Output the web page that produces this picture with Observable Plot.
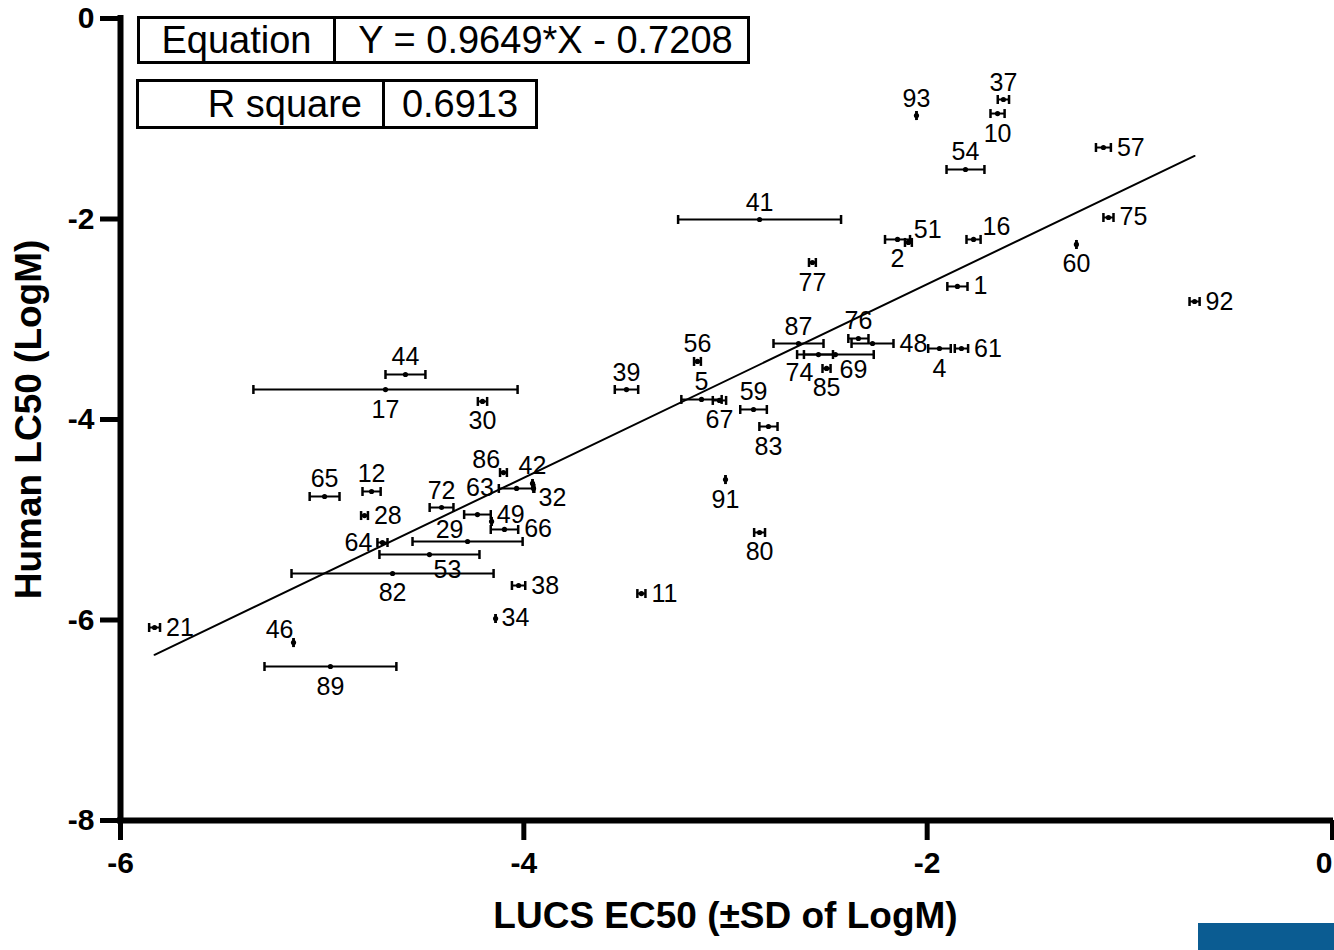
<!DOCTYPE html>
<html>
<head>
<meta charset="utf-8">
<script src="https://cdn.jsdelivr.net/npm/d3@7"></script>
<script src="https://cdn.jsdelivr.net/npm/@observablehq/plot@0.6"></script>
<style>
  html, body { margin: 0; padding: 0; background: #fff; }
  #wrap { position: relative; width: 1334px; height: 950px; overflow: hidden; font-family: "Liberation Sans", Arial, sans-serif; }
  #chart { position: absolute; left: 0; top: 0; }
  .box { position: absolute; display: flex; border: 3px solid #000; box-sizing: border-box; background: #fff; font-size: 38px; color: #000; line-height: 1; }
  .box div { display: flex; align-items: center; justify-content: center; height: 100%; box-sizing: border-box; }
  .box div + div { border-left: 3px solid #000; }
  #logo { position: absolute; left: 1198px; top: 923px; width: 136px; height: 27px; background: #0b5c92; }
</style>
</head>
<body>
<div id="wrap">
  <div id="chart"></div>
  <div class="box" style="left:137px; top:16px; width:613px; height:48px;">
    <div style="width:193px;">Equation</div>
    <div style="flex:1; padding-left:8px;">Y = 0.9649*X - 0.7208</div>
  </div>
  <div class="box" style="left:136px; top:79px; width:402px; height:50px;">
    <div style="width:243px; justify-content:flex-end; padding-right:20px;">R square</div>
    <div style="flex:1;">0.6913</div>
  </div>
  <div id="logo"></div>
</div>
<script>
// ---- data ----
const ids = ["1","2","4","5","10","11","12","16","17","21","28","29","30","32","34","37","38","39","41","42","44","46","48","49","","51","53","54","56","57","59","60","61","63","64","65","66","67","69","72","74","75","76","77","80","82","83","85","86","87","89","91","92","93"];
const lucs = [-1.850,-2.147,-1.939,-3.119,-1.651,-3.417,-4.755,-1.770,-4.686,-5.831,-4.790,-4.279,-4.205,-3.952,-4.140,-1.622,-4.026,-3.491,-2.831,-3.957,-4.587,-5.142,-2.271,-4.230,-4.160,-2.093,-4.468,-1.810,-3.139,-1.126,-2.861,-1.260,-1.830,-4.036,-4.701,-4.988,-4.096,-3.030,-2.455,-4.408,-2.539,-1.101,-2.341,-2.569,-2.831,-4.651,-2.787,-2.499,-4.101,-2.638,-4.959,-3.000,-0.674,-2.053];
const lucsSD = [0.050,0.062,0.056,0.100,0.035,0.020,0.045,0.035,0.655,0.027,0.017,0.273,0.023,0.000,0.000,0.028,0.033,0.058,0.404,0.000,0.099,0.000,0.104,0.066,0.000,0.017,0.248,0.094,0.017,0.037,0.066,0.000,0.033,0.088,0.025,0.074,0.068,0.033,0.190,0.059,0.072,0.025,0.050,0.017,0.027,0.501,0.045,0.020,0.017,0.124,0.327,0.000,0.025,0.000];
const human = [-2.673,-2.204,-3.292,-3.800,-0.948,-5.736,-4.718,-2.204,-3.701,-6.075,-4.958,-5.217,-3.820,-4.688,-5.985,-0.808,-5.656,-3.701,-2.005,-4.638,-3.551,-6.225,-3.242,-4.948,-5.017,-2.234,-5.347,-1.506,-3.421,-1.287,-3.900,-2.254,-3.292,-4.688,-5.227,-4.768,-5.097,-3.810,-3.352,-4.878,-3.352,-1.985,-3.192,-2.434,-5.127,-5.536,-4.070,-3.491,-4.529,-3.242,-6.464,-4.599,-2.823,-0.968];
const place = ["r","b","b","t","b","r","t","tr","b","r","r","tL","b","br","r","t","r","t","t","t","t","tl","r","r","t","tr","bR","t","t","r","t","b","r","l","l","t","r","b","bR","t","bL","r","t","b","b","b","b","b","tl","t","b","b","r","t"];
const slope = 0.9649, intercept = -0.7208;
const xTicks = [-6, -4, -2];
const xLastTick = [0];
const yTicks = [0, -2, -4, -6, -8];
const xTitle = "LUCS EC50 (±SD of LogM)";
const yTitle = "Human LC50 (LogM)";

const rows = ids.map((id, i) => ({id, x: lucs[i], sd: lucsSD[i], y: human[i], place: place[i]}));
const xMin = d3.min(lucs), xMax = d3.max(lucs);
const fit = [xMin, xMax].map(x => ({x, y: slope * x + intercept}));

// ---- styles ----
const capSymbol = { draw(ctx) { ctx.moveTo(0, -4.5); ctx.lineTo(0, 4.5); } };
const placeStyle = {
  t:  {base: "c", dx: 0,   dy: -17, anchor: "middle"},
  b:  {base: "c", dx: 0,   dy: 20,  anchor: "middle"},
  tL: {base: "c", dx: -18, dy: -12, anchor: "middle"},
  bL: {base: "c", dx: -19, dy: 18,  anchor: "middle"},
  bR: {base: "c", dx: 18,  dy: 15,  anchor: "middle"},
  r:  {base: "r", dx: 6,   dy: 0,   anchor: "start"},
  l:  {base: "l", dx: -5,  dy: 0,   anchor: "end"},
  tr: {base: "r", dx: 2,   dy: -12, anchor: "start"},
  br: {base: "r", dx: 5,   dy: 10,  anchor: "start"},
  tl: {base: "l", dx: 0,   dy: -13, anchor: "end"}
};
const baseX = {c: d => d.x, r: d => d.x + d.sd, l: d => d.x - d.sd};
const labelFont = 25;
const tickFont = 30;
const titleFont = 37;

const labelMarks = Object.entries(placeStyle).map(([k, s]) =>
  Plot.text(rows.filter(d => d.place === k && d.id !== ""), {
    x: baseX[s.base], y: "y", text: "id",
    dx: s.dx, dy: s.dy, textAnchor: s.anchor,
    fontSize: labelFont, fill: "#000"
  })
);

const axisStyle = {tickSize: 20, strokeWidth: 5, fontSize: tickFont, fontWeight: "bold", tickFormat: d => String(d), label: null};

const chart = Plot.plot({
  width: 1334,
  height: 950,
  marginLeft: 120,
  marginRight: 4,
  marginTop: 18,
  marginBottom: 130,
  x: {domain: [-6, 0]},
  y: {domain: [-8, 0]},
  style: {fontFamily: "Liberation Sans, Arial, sans-serif", background: "transparent", color: "#000", overflow: "visible"},
  marks: [
    Plot.axisX({...axisStyle, ticks: xTicks, tickPadding: 11}),
    Plot.axisX({...axisStyle, ticks: xLastTick, tickPadding: 11, textAnchor: "end", dx: 2}),
    Plot.axisY({...axisStyle, ticks: yTicks, tickPadding: 6}),
    Plot.ruleX([-6], {y1: -8, y2: 0, strokeWidth: 6, strokeLinecap: "square"}),
    Plot.ruleY([-8], {x1: -6, x2: 0, strokeWidth: 6, strokeLinecap: "square"}),
    Plot.line(fit, {x: "x", y: "y", strokeWidth: 2, stroke: "#000"}),
    Plot.ruleY(rows, {y: "y", x1: d => d.x - d.sd, x2: d => d.x + d.sd, strokeWidth: 2, stroke: "#000"}),
    Plot.dot(rows, {x: d => d.x - d.sd, y: "y", symbol: capSymbol, stroke: "#000", strokeWidth: 2.5, fill: "none"}),
    Plot.dot(rows, {x: d => d.x + d.sd, y: "y", symbol: capSymbol, stroke: "#000", strokeWidth: 2.5, fill: "none"}),
    Plot.dot(rows, {x: "x", y: "y", r: 2.6, fill: "#000", stroke: "none"}),
    ...labelMarks,
    Plot.text([xTitle], {frameAnchor: "bottom", lineAnchor: "middle", textAnchor: "middle", dy: 96, fontSize: titleFont, fontWeight: "bold", fill: "#000"}),
    Plot.text([yTitle], {frameAnchor: "left", lineAnchor: "middle", textAnchor: "middle", rotate: -90, dx: -91, fontSize: titleFont, fontWeight: "bold", fill: "#000"})
  ]
});
document.getElementById("chart").appendChild(chart);
</script>
</body>
</html>
